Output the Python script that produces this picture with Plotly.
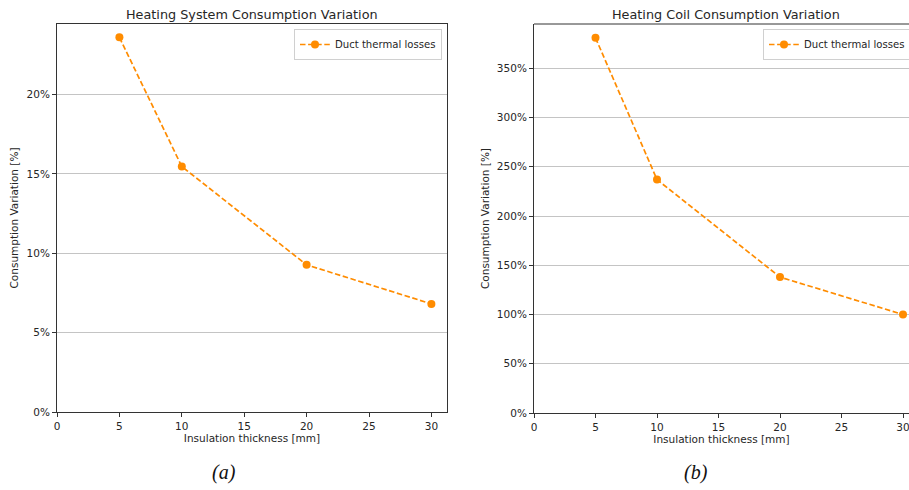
import plotly.graph_objects as go

# Insulation thickness of the ducts [mm]
thickness = [5, 10, 20, 30]
# Consumption variation caused by duct thermal losses [%]
system_variation = [23.6, 15.46, 9.27, 6.81]
coil_variation = [381, 237, 138, 100]

series_name = "Duct thermal losses"
x_ticks = [0, 5, 10, 15, 20, 25, 30]
system_ticks = [0, 5, 10, 15, 20]
coil_ticks = [0, 50, 100, 150, 200, 250, 300, 350]

W, H = 909, 490
ORANGE = "#FF8C00"
FONT = "DejaVu Sans"
TXT = "#262626"
DASH = "5.5px,2.6px"

fig = go.Figure()

fig.add_trace(go.Scatter(
    x=thickness, y=system_variation, mode="lines+markers", name=series_name,
    line=dict(color=ORANGE, width=1.7, dash=DASH, shape="linear"),
    marker=dict(color=ORANGE, size=8), xaxis="x", yaxis="y", legend="legend",
))
fig.add_trace(go.Scatter(
    x=thickness, y=coil_variation, mode="lines+markers", name=series_name,
    line=dict(color=ORANGE, width=1.7, dash=DASH, shape="linear"),
    marker=dict(color=ORANGE, size=8), xaxis="x2", yaxis="y2", legend="legend2",
))

def px(v):
    return v / W

def py(v):
    return 1 - v / H

axis_common = dict(
    showline=True, linecolor="#333333", linewidth=1,
    ticks="outside", ticklen=4, tickwidth=1, tickcolor="#333333",
    tickfont=dict(family=FONT, size=10.5, color=TXT),
    zeroline=False, automargin=False, ticklabeloverflow="allow",
)
title_font = dict(family=FONT, size=10.5, color=TXT)
legend_style = dict(bgcolor="rgba(255,255,255,0.8)", bordercolor="#d0d0d0", borderwidth=1,
                    itemwidth=30, font=dict(family=FONT, size=10.1, color=TXT))

# left panel geometry
L1, R1, T1, B1 = 57, 447, 24, 412
# right panel geometry (its right edge runs off the page)
L2, T2, B2 = 534, 24, 413
x2_end = (W - L2) / ((903 - L2) / 30)

fig.update_layout(
    width=W, height=H,
    margin=dict(l=0, r=0, t=0, b=0, autoexpand=False),
    paper_bgcolor="white", plot_bgcolor="white",
    font=dict(family=FONT, color=TXT),
    xaxis=dict(domain=[px(L1), px(R1)], range=[0, 31.25], tickvals=x_ticks,
               mirror=True, showgrid=False, anchor="y",
               title=dict(text="Insulation thickness [mm]", font=title_font, standoff=3),
               **axis_common),
    yaxis=dict(domain=[py(B1), py(T1)], range=[0, 24.44], tickvals=system_ticks,
               ticktext=[f"{v}%" for v in system_ticks],
               mirror=True, showgrid=True, gridcolor="#c4c4c4",
               gridwidth=1, anchor="x",
               title=dict(text="Consumption Variation [%]", font=title_font, standoff=5),
               **axis_common),
    xaxis2=dict(domain=[px(L2), 1.0], range=[0, x2_end], tickvals=x_ticks,
                showgrid=False, anchor="y2",
                title=dict(text="Insulation thickness [mm]", font=title_font, standoff=3),
                **axis_common),
    yaxis2=dict(domain=[py(B2), py(T2)], range=[0, 395], tickvals=coil_ticks,
                ticktext=[f"{v}%" for v in coil_ticks],
                showgrid=True, gridcolor="#c4c4c4", gridwidth=1,
                anchor="x2",
                title=dict(text="Consumption Variation [%]", font=title_font, standoff=5),
                **axis_common),
    legend=dict(x=px(442), y=py(29), xanchor="right", yanchor="top", **legend_style),
    legend2=dict(x=px(763), y=py(29), xanchor="left", yanchor="top", **legend_style),
    showlegend=True,
)

# top spine of the right panel
fig.add_shape(type="line", xref="paper", yref="paper",
              x0=px(L2), x1=1.0, y0=py(T2), y1=py(T2),
              line=dict(color="#333333", width=1))

annotations = [
    dict(text="Heating System Consumption Variation", x=px((L1 + R1) / 2), y=py(14)),
    dict(text="Heating Coil Consumption Variation", x=px(726), y=py(14)),
]
for a in annotations:
    fig.add_annotation(xref="paper", yref="paper", xanchor="center", yanchor="middle",
                       showarrow=False, font=dict(family=FONT, size=12.8, color=TXT), **a)

for label, cx in [("(a)", 224), ("(b)", 696)]:
    fig.add_annotation(text=f"<i>{label}</i>", xref="paper", yref="paper",
                       x=px(cx), y=py(472), xanchor="center", yanchor="middle",
                       showarrow=False,
                       font=dict(family="Liberation Serif", size=20, color="#111111"))

fig.write_html("out.html")
